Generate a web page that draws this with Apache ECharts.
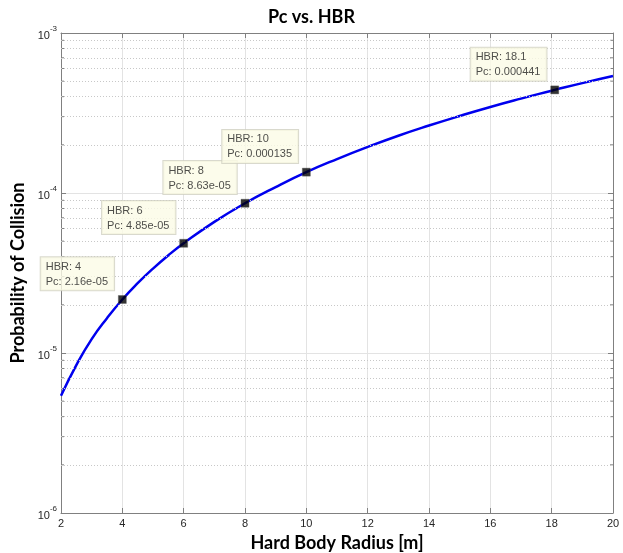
<!DOCTYPE html>
<html><head><meta charset="utf-8">
<script src="https://cdn.jsdelivr.net/npm/echarts@6/dist/echarts.min.js"></script>
<style>html,body{margin:0;padding:0;background:#fff}#c{width:623px;height:553px}</style>
</head><body><div id="c"></div>
<script>
// Curve
const hbr = [2, 2.5, 3, 3.5, 4, 4.5, 5, 5.5, 6, 7, 8, 9, 10, 11, 12, 13, 14, 15, 16, 17, 18, 18.1, 19, 20];
const pc  = [5.4e-6, 8.4e-6, 1.22e-5, 1.65e-5, 2.16e-5, 2.73e-5, 3.37e-5, 4.08e-5, 4.85e-5, 6.6e-5, 8.63e-5, 1.09e-4, 1.35e-4, 1.63e-4, 1.94e-4, 2.28e-4, 2.64e-4, 3.03e-4, 3.45e-4, 3.89e-4, 4.36e-4, 4.41e-4, 4.86e-4, 5.38e-4];
// Data tips
const tipHbr = [4, 6, 8, 10, 18.1];
const tipPc  = [2.16e-5, 4.85e-5, 8.63e-5, 1.35e-4, 4.41e-4];
const tipPcText = ['2.16e-05', '4.85e-05', '8.63e-05', '0.000135', '0.000441'];
const tipHbrText = ['4', '6', '8', '10', '18.1'];
// Axes
const xMin = 2, xMax = 20;
const yMin = 1e-6, yMax = 1e-3;
const yMinor = [2e-6,3e-6,4e-6,5e-6,6e-6,7e-6,8e-6,9e-6,2e-5,3e-5,4e-5,5e-5,6e-5,7e-5,8e-5,9e-5,2e-4,3e-4,4e-4,5e-4,6e-4,7e-4,8e-4,9e-4];

const chart = echarts.init(document.getElementById('c'), null, {renderer:'canvas'});
const axisCol = '#808080', textCol = '#262626', gridCol = '#e3e3e3';
const fnt = 'Liberation Sans, Arial, sans-serif';
const nameFont = { fontFamily: 'Lato, Open Sans, sans-serif', fontWeight: 'bold', fontSize: 18, color: '#000' };
const sup = v => { const e = Math.round(Math.log10(v)); return '{b|10}{s|' + e + '}'; };

chart.setOption({
  animation: false,
  backgroundColor: '#fff',
  title: { text: 'Pc vs. HBR', left: 'center', top: 3, textStyle: nameFont },
  grid: { left: 61, right: 10, top: 33, bottom: 40, containLabel: false, outerBoundsMode: 'none' },
  xAxis: [{
    type: 'value', min: xMin, max: xMax, interval: 2,
    name: 'Hard Body Radius [m]', nameLocation: 'middle', nameGap: 15, nameTextStyle: nameFont,
    axisLine: { show: true, lineStyle: { color: axisCol, width: 1 } },
    axisTick: { show: true, inside: true, length: 5, lineStyle: { color: axisCol } },
    axisLabel: { color: textCol, fontSize: 11, fontFamily: fnt, margin: 5 },
    splitLine: { show: true, lineStyle: { color: gridCol, width: 1 } }
  }, {
    type: 'value', min: xMin, max: xMax, interval: 2, position: 'top',
    axisLine: { show: true, lineStyle: { color: axisCol, width: 1 } },
    axisTick: { show: true, inside: true, length: 5, lineStyle: { color: axisCol } },
    axisLabel: { show: false }, splitLine: { show: false }
  }],
  yAxis: [{
    type: 'log', logBase: 10, min: yMin, max: yMax,
    name: 'Probability of Collision', nameLocation: 'middle', nameGap: 28, nameTextStyle: nameFont,
    axisLine: { show: true, lineStyle: { color: axisCol, width: 1 } },
    axisTick: { show: true, inside: true, length: 5, lineStyle: { color: axisCol } },
    axisLabel: { color: textCol, fontFamily: fnt, margin: 4, formatter: sup,
      rich: { b: { fontSize: 11, color: textCol, fontFamily: fnt, padding: [6,0,0,0] }, s: { fontSize: 8, color: textCol, fontFamily: fnt, verticalAlign: 'top', padding: [0,0,6,0] } } },
    splitLine: { show: true, lineStyle: { color: gridCol, width: 1 } }
  }, {
    type: 'log', logBase: 10, min: yMin, max: yMax, position: 'right',
    axisLine: { show: true, lineStyle: { color: axisCol, width: 1 } },
    axisTick: { show: true, inside: true, length: 5, lineStyle: { color: axisCol } },
    axisLabel: { show: false }, splitLine: { show: false }
  }],
  series: [{
    // minor ticks on left and right frame edges at log minor values
    type: 'custom', xAxisIndex: 0, yAxisIndex: 0, silent: true, z: 1,
    data: yMinor.map(v => [xMin, v]),
    renderItem: (params, api) => {
      const v = api.value(1);
      const a = api.coord([xMin, v]), b = api.coord([xMax, v]);
      const st = { stroke: axisCol, lineWidth: 1 };
      return { type: 'group', children: [
        { type: 'line', shape: { x1: a[0], y1: a[1], x2: a[0] + 3, y2: a[1] }, style: st },
        { type: 'line', shape: { x1: b[0] - 3, y1: b[1], x2: b[0], y2: b[1] }, style: st }
      ] };
    }
  }, {
    type: 'line', xAxisIndex: 0, yAxisIndex: 0,
    data: hbr.map((x, i) => [x, pc[i]]),
    smooth: true, showSymbol: false,
    lineStyle: { color: '#0000ee', width: 2.5 },
    markLine: { silent: true, symbol: 'none', label: { show: false }, animation: false,
      lineStyle: { color: '#c8c8c8', type: [1, 2], width: 1 },
      data: yMinor.map(v => [{ coord: [xMin, v] }, { coord: [xMax, v] }]) },
    z: 3
  }, {
    type: 'scatter', xAxisIndex: 0, yAxisIndex: 0,
    data: tipHbr.map((x, i) => [x, tipPc[i]]),
    symbol: 'rect', symbolSize: 8,
    itemStyle: { color: '#000', borderColor: '#555', borderWidth: 0.5 },
    label: { show: true, position: [-4, -5], align: 'right', verticalAlign: 'bottom',
      formatter: p => '{t|HBR: ' + tipHbrText[p.dataIndex] + '}\n{t|Pc: ' + tipPcText[p.dataIndex] + '}',
      rich: { t: { align: 'left', fontFamily: fnt, fontSize: 11, color: '#222', lineHeight: 15 } },
      backgroundColor: '#fbfbe6', borderColor: '#cfcfc0', borderWidth: 1, padding: [2, 6, 1, 5] },
    z: 5
  }]
});
</script></body></html>
